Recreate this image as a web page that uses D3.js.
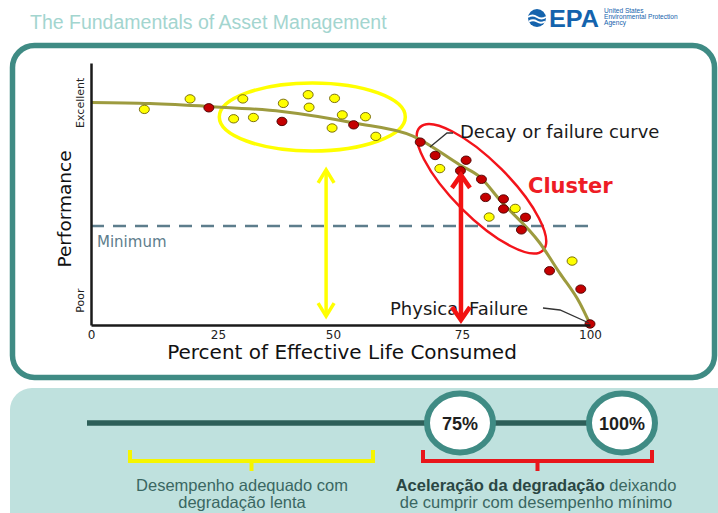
<!DOCTYPE html>
<html>
<head>
<meta charset="utf-8">
<script src="https://cdn.jsdelivr.net/npm/d3@7"></script>
<style>
  html, body { margin: 0; padding: 0; background: #fff; }
  svg { display: block; }
</style>
</head>
<body>
<svg id="chart"></svg>
<script>
// Asset decay curve: performance vs percent of effective life consumed

// axis ticks / labels
const lifeTicks = [0, 25, 50, 75, 100];
const perfLabels = ['Poor', 'Excellent'];
const perfLabelAt = [9.5, 85];

// decay or failure curve
const curveLife = [0, 11.6, 23.2, 38.9, 54.1, 65.5, 74.6, 78.5, 82.4, 90.2, 94.1, 98.0, 100];
const curvePerf = [84.9, 84.5, 83.4, 81.5, 77.1, 72.1, 61.1, 56.5, 47.7, 31.3, 19.8, 8.4, 0.4];

// individual assets: y = adequate, r = degraded
const pointLife = [10.5, 19.5, 23.2, 28.4, 30.4, 32.7, 38.9, 39.2, 44.6, 44.8, 50.3, 51.8, 49.8, 54.0, 56.3, 58.3,
                   66.9, 69.8, 70.7, 75.8, 74.7, 78.8, 79.6, 83.1, 83.1, 85.4, 80.3, 87.4, 86.6, 96.5, 92.1, 98.2, 100];
const pointPerf = [82.3, 86.3, 82.9, 78.7, 86.3, 79.2, 77.7, 84.6, 87.9, 83.1, 86.5, 80.2, 75.2, 76.4, 79.5, 72.0,
                   69.8, 64.7, 59.7, 62.9, 58.9, 55.6, 48.7, 48.1, 44.3, 44.5, 41.2, 41.1, 36.3, 24.4, 20.7, 13.7, 0.4];
const pointState = ['y', 'y', 'r', 'y', 'y', 'y', 'r', 'y', 'y', 'y', 'y', 'y', 'y', 'r', 'y', 'y',
                    'r', 'r', 'y', 'r', 'r', 'r', 'r', 'r', 'r', 'y', 'y', 'r', 'r', 'y', 'r', 'r', 'r'];

const minimumPerf = 37.8;

// annotations (data units)
const slowZone = {life: 45.5, perf: 79.4};
const clusterZone = {life: 78.8, perf: 52.0};
const slowArrow = {life: 48.5, from: 59.2, to: 3.4};
const failArrow = {life: 74.8, from: 57.3, to: 1.9};

// bottom timeline
const stageValues = [75, 100];
const stageLabels = ['75%', '100%'];

const W = 718, H = 513;
const svg = d3.select('#chart').attr('width', W).attr('height', H);

const sans = '"Liberation Sans", Arial, sans-serif';
const chartFont = '"DejaVu Sans", Verdana, sans-serif';

// ---- header
svg.append('text')
    .attr('x', 30).attr('y', 29)
    .style('font-family', sans).style('font-size', '19.5px')
    .attr('fill', '#a3d5cf')
    .text('The Fundamentals of Asset Management');

const logo = svg.append('g').attr('fill', '#1463ad');
logo.append('circle').attr('cx', 537).attr('cy', 18).attr('r', 9);
logo.append('path')
    .attr('d', 'M528,17 q4.5,-3 9,0 t9,0 M529,21.5 q4,-2.5 8,0 t8,0')
    .attr('fill', 'none').attr('stroke', '#fff').attr('stroke-width', 1.8);
logo.append('path').attr('d', 'M533,9 L537,4 L541,9 Z').attr('fill', '#fff');
logo.append('text')
    .attr('x', 549).attr('y', 26.5)
    .style('font-family', sans).style('font-size', '24px').style('font-weight', 'bold')
    .attr('textLength', 50).attr('lengthAdjust', 'spacingAndGlyphs')
    .text('EPA');
['United States', 'Environmental Protection', 'Agency'].forEach((t, i) => {
    logo.append('text')
        .attr('x', 604).attr('y', 13 + i * 6)
        .style('font-family', sans).style('font-size', '6.6px')
        .text(t);
});

// ---- panels
svg.append('rect')
    .attr('x', 12.5).attr('y', 45.5).attr('width', 702).attr('height', 332)
    .attr('rx', 22)
    .attr('fill', '#fff').attr('stroke', '#3f8b84').attr('stroke-width', 5.5);

svg.append('rect')
    .attr('x', 10).attr('y', 388).attr('width', 740).attr('height', 160)
    .attr('rx', 22)
    .attr('fill', '#bfe1de');

// ---- chart
const margin = {top: 63, left: 91};
const width = 499, height = 262;
const g = svg.append('g').attr('transform', `translate(${margin.left},${margin.top})`);

const x = d3.scaleLinear().domain(lifeTicks).range([0, 127, 242, 371, 499]);
const y = d3.scaleLinear().domain([0, 100]).range([height, 0]);

// minimum level
g.append('line')
    .attr('x1', x(0)).attr('x2', x(101))
    .attr('y1', y(minimumPerf)).attr('y2', y(minimumPerf))
    .attr('stroke', '#5d7d8c').attr('stroke-width', 2.5)
    .attr('stroke-dasharray', '13,9');
g.append('text')
    .attr('x', x(0) + 6).attr('y', y(minimumPerf) + 21)
    .style('font-family', chartFont).style('font-size', '15px')
    .attr('fill', '#5d7d8c')
    .text('Minimum');

// zones
g.append('ellipse')
    .attr('cx', x(slowZone.life)).attr('cy', y(slowZone.perf))
    .attr('rx', 93).attr('ry', 34)
    .attr('fill', 'none').attr('stroke', '#ffff00').attr('stroke-width', 3.5);
g.append('ellipse')
    .attr('transform', `translate(${x(clusterZone.life)},${y(clusterZone.perf)}) rotate(45)`)
    .attr('rx', 87).attr('ry', 28)
    .attr('fill', 'none').attr('stroke', '#f3141b').attr('stroke-width', 2.5);

// curve
const line = d3.line()
    .x(i => x(curveLife[i]))
    .y(i => y(curvePerf[i]))
    .curve(d3.curveMonotoneX);
g.append('path')
    .datum(d3.range(curveLife.length))
    .attr('d', line)
    .attr('fill', 'none').attr('stroke', '#9d9b3f').attr('stroke-width', 3);

// points
g.selectAll('ellipse.pt')
    .data(d3.range(pointLife.length))
    .enter().append('ellipse')
    .attr('class', 'pt')
    .attr('cx', i => x(pointLife[i]))
    .attr('cy', i => y(pointPerf[i]))
    .attr('rx', 5).attr('ry', 4.2)
    .attr('fill', i => pointState[i] === 'r' ? '#c40000' : '#ffff00')
    .attr('stroke', i => pointState[i] === 'r' ? '#4a0000' : '#6e6200')
    .attr('stroke-width', 0.9);

// axes
const xAxis = g.append('g')
    .attr('transform', `translate(0,${height})`)
    .call(d3.axisBottom(x).tickValues(lifeTicks).tickSize(0).tickSizeOuter(0).tickPadding(5));
xAxis.select('.domain').attr('stroke', '#1a1a1a').attr('stroke-width', 2.5);
xAxis.selectAll('text')
    .style('font-family', chartFont).style('font-size', '12px')
    .attr('fill', '#222');

const yAxis = g.append('g')
    .call(d3.axisLeft(y).tickValues(perfLabelAt).tickSize(0).tickSizeOuter(0)
        .tickFormat((d, i) => perfLabels[i]));
yAxis.select('.domain').attr('stroke', '#1a1a1a').attr('stroke-width', 2.5);
yAxis.selectAll('text')
    .attr('x', null).attr('dy', null)
    .attr('transform', 'translate(-7,0) rotate(-90)')
    .attr('text-anchor', 'middle')
    .style('font-family', chartFont).style('font-size', '11px')
    .attr('fill', '#222');

g.append('text')
    .attr('transform', `translate(-20,${height / 2 + 15}) rotate(-90)`)
    .attr('text-anchor', 'middle')
    .style('font-family', chartFont).style('font-size', '18.5px')
    .attr('fill', '#111')
    .text('Performance');

g.append('text')
    .attr('x', 251).attr('y', height + 34)
    .attr('text-anchor', 'middle')
    .style('font-family', chartFont).style('font-size', '20px')
    .attr('fill', '#111')
    .text('Percent of Effective Life Consumed');

// callouts
g.append('path')
    .attr('d', 'M339,84 L356,70 L362,70')
    .attr('fill', 'none').attr('stroke', '#333').attr('stroke-width', 1.3);
g.append('text')
    .attr('x', 369).attr('y', 75)
    .style('font-family', chartFont).style('font-size', '18px')
    .attr('fill', '#1a1a1a')
    .text('Decay or failure curve');

g.append('text')
    .attr('x', 437).attr('y', 130)
    .style('font-family', chartFont).style('font-size', '21px').style('font-weight', 'bold')
    .attr('fill', '#ee1c25')
    .text('Cluster');

g.append('text')
    .attr('x', 299).attr('y', 252)
    .style('font-family', chartFont).style('font-size', '18px')
    .attr('fill', '#1a1a1a')
    .text('Physical Failure');
g.append('path')
    .attr('d', 'M452,245 L469,247 L498,260')
    .attr('fill', 'none').attr('stroke', '#333').attr('stroke-width', 1.3);

// arrows
function arrow(a, color, w, head) {
    const ax = x(a.life), y0 = y(a.from), y1 = y(a.to);
    const ag = g.append('g').attr('stroke', color).attr('stroke-width', w).attr('fill', 'none');
    ag.append('line').attr('x1', ax).attr('x2', ax).attr('y1', y0 + 1).attr('y2', y1 - 1);
    ag.append('path')
        .attr('d', `M${ax - head[0]},${y0 + head[1]} L${ax},${y0} L${ax + head[0]},${y0 + head[1]}`)
        .attr('stroke-linejoin', 'miter');
    ag.append('path')
        .attr('d', `M${ax - head[0]},${y1 - head[1]} L${ax},${y1} L${ax + head[0]},${y1 - head[1]}`)
        .attr('stroke-linejoin', 'miter');
}
arrow(slowArrow, '#ffff00', 3.5, [8, 13]);
arrow(failArrow, '#f21212', 4.5, [9, 13]);

// ---- bottom timeline
const t = d3.scaleLinear().domain([0, 75, 100]).range([87, 460, 622]);
const tlY = 423;

svg.append('line')
    .attr('x1', t(0)).attr('x2', t(100))
    .attr('y1', tlY).attr('y2', tlY)
    .attr('stroke', '#2d5f59').attr('stroke-width', 5.5);

const stage = svg.selectAll('g.stage')
    .data(stageValues)
    .enter().append('g')
    .attr('class', 'stage')
    .attr('transform', d => `translate(${t(d)},${tlY})`);
stage.append('ellipse')
    .attr('rx', 33).attr('ry', 29.5)
    .attr('fill', '#fff').attr('stroke', '#3f8b84').attr('stroke-width', 6);
stage.append('text')
    .attr('y', 6.5)
    .attr('text-anchor', 'middle')
    .style('font-family', sans).style('font-size', '18px').style('font-weight', 'bold')
    .attr('fill', '#1f1f1f')
    .text((d, i) => stageLabels[i]);

function bracket(x0, x1, color) {
    const xm = (x0 + x1) / 2;
    svg.append('path')
        .attr('d', `M${x0},450 V461 H${x1} V450 M${xm},461 V471`)
        .attr('fill', 'none').attr('stroke', color).attr('stroke-width', 4);
}
bracket(130, 373, '#f5f500');
bracket(423, 652, '#e8161b');

const noteColor = '#3a6762';
const left = svg.append('text')
    .attr('text-anchor', 'middle')
    .style('font-family', sans).style('font-size', '16.5px')
    .attr('fill', noteColor);
left.append('tspan').attr('x', 242).attr('y', 491).text('Desempenho adequado com');
left.append('tspan').attr('x', 242).attr('y', 508).text('degradação lenta');

const right = svg.append('text')
    .attr('text-anchor', 'middle')
    .style('font-family', sans).style('font-size', '16.5px')
    .attr('fill', noteColor);
const r1 = right.append('tspan').attr('x', 536).attr('y', 491);
r1.append('tspan').style('font-weight', 'bold').attr('fill', '#2a4744').text('Aceleração da degradação');
r1.append('tspan').text(' deixando');
right.append('tspan').attr('x', 536).attr('y', 508).text('de cumprir com desempenho mínimo');
</script>
</body>
</html>
